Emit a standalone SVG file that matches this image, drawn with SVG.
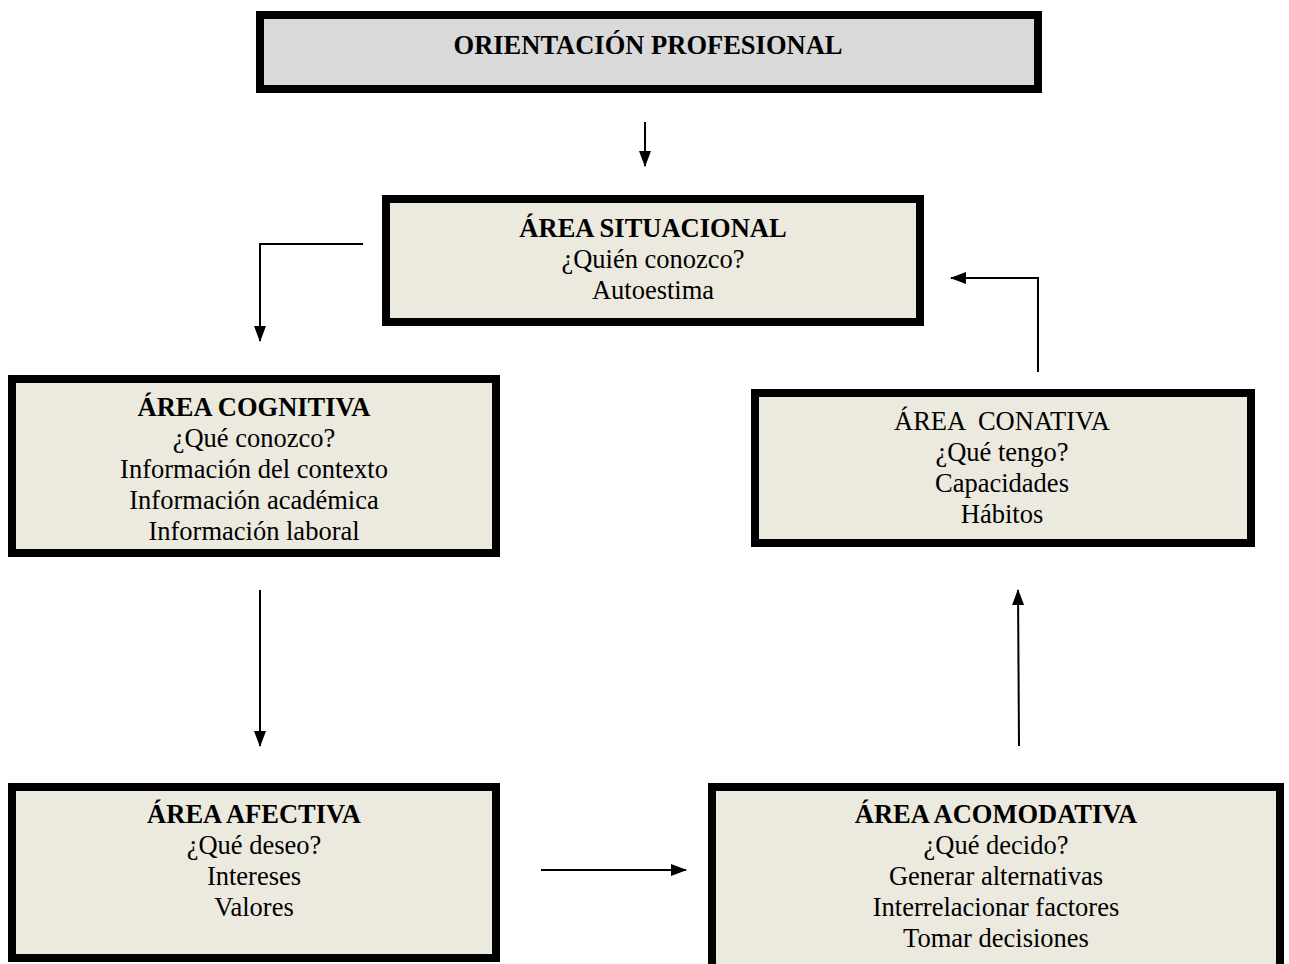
<svg xmlns="http://www.w3.org/2000/svg" width="1289" height="964" viewBox="0 0 1289 964">
<defs>
<marker id="ah" markerWidth="16" markerHeight="12" refX="15" refY="6" orient="auto" markerUnits="userSpaceOnUse">
<path d="M0,0 L16,6 L0,12 Z" fill="#000"/>
</marker>
<style>
.box{fill:#ece9df;stroke:#000;stroke-width:8}
.grey{fill:#d9d9d9}
text{font-family:"Liberation Serif","Times New Roman",serif;font-size:26.5px;fill:#000;text-anchor:middle}
.b{font-weight:bold}
.con{fill:none;stroke:#000;stroke-width:2;marker-end:url(#ah)}
</style>
</defs>
<rect width="1289" height="964" fill="#fff"/>
<g id="orientacion">
<rect class="box grey" x="260" y="15" width="778" height="74"/>
<text class="b" x="648" y="54">ORIENTACIÓN PROFESIONAL</text>
</g>
<g id="situacional">
<rect class="box" x="386" y="199" width="534" height="123"/>
<text class="b" x="653" y="237">ÁREA SITUACIONAL</text>
<text x="653" y="268">¿Quién conozco?</text>
<text x="653" y="299">Autoestima</text>
</g>
<g id="cognitiva">
<rect class="box" x="12" y="379" width="484" height="174"/>
<text class="b" x="254" y="416">ÁREA COGNITIVA</text>
<text x="254" y="447">¿Qué conozco?</text>
<text x="254" y="478">Información del contexto</text>
<text x="254" y="509">Información académica</text>
<text x="254" y="540">Información laboral</text>
</g>
<g id="conativa">
<rect class="box" x="755" y="393" width="496" height="150"/>
<text x="1002" y="430" xml:space="preserve">ÁREA  CONATIVA</text>
<text x="1002" y="461">¿Qué tengo?</text>
<text x="1002" y="492">Capacidades</text>
<text x="1002" y="523">Hábitos</text>
</g>
<g id="afectiva">
<rect class="box" x="12" y="787" width="484" height="171"/>
<text class="b" x="254" y="823">ÁREA AFECTIVA</text>
<text x="254" y="854">¿Qué deseo?</text>
<text x="254" y="885">Intereses</text>
<text x="254" y="916">Valores</text>
</g>
<g id="acomodativa">
<rect class="box" x="712" y="787" width="568" height="200"/>
<text class="b" x="996" y="823">ÁREA ACOMODATIVA</text>
<text x="996" y="854">¿Qué decido?</text>
<text x="996" y="885">Generar alternativas</text>
<text x="996" y="916">Interrelacionar factores</text>
<text x="996" y="947">Tomar decisiones</text>
</g>
<g id="connectors">
<path class="con" d="M645,122 L645,166"/>
<path class="con" d="M363,244 L260,244 L260,341"/>
<path class="con" d="M260,590 L260,746"/>
<path class="con" d="M541,870 L686,870"/>
<path class="con" d="M1019,746 L1018,590"/>
<path class="con" d="M1038,372 L1038,278 L951,278"/>
</g>
</svg>
